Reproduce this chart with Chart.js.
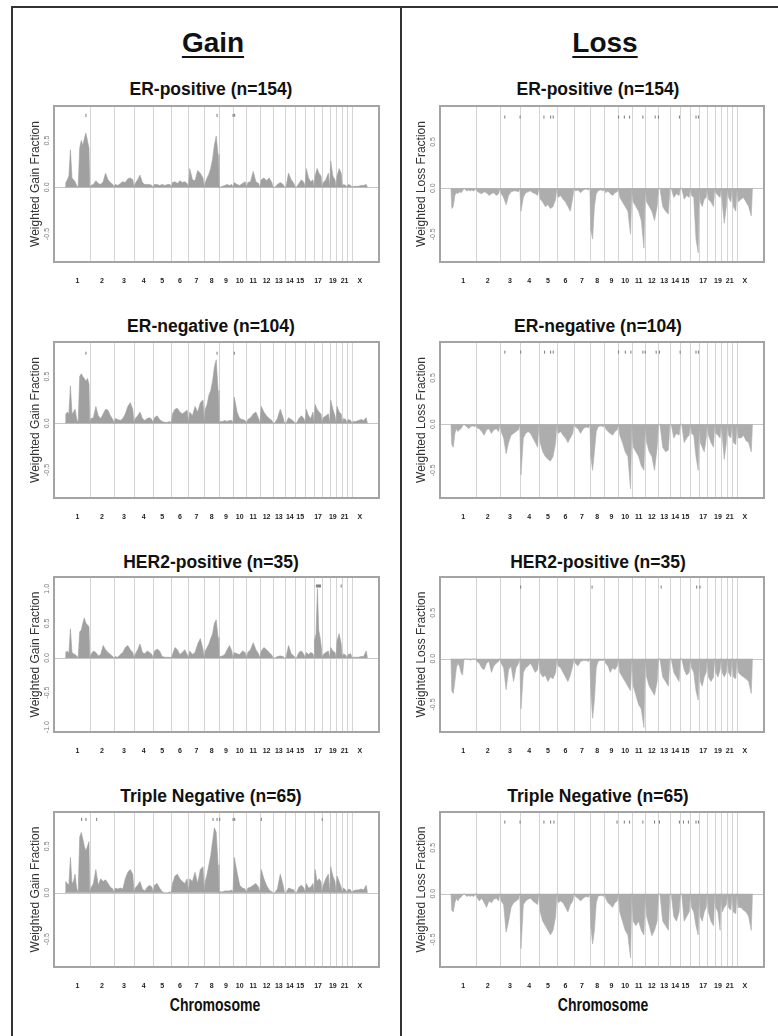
<!DOCTYPE html>
<html lang="en">
<head>
<meta charset="UTF-8">
<title>Weighted gain and loss fraction by subtype</title>
<script src="https://cdn.jsdelivr.net/npm/chart.js"></script>
<style>
  body { margin: 0; background: #fff; font-family: "Liberation Sans", Arial, sans-serif; color: #111; }
  #page { position: relative; width: 778px; height: 1036px; overflow: hidden; }
  .frame { position: absolute; background: #333; }
  .head { position: absolute; font-weight: bold; font-size: 28px; line-height: 1; transform: translate(-50%, -50%);
          text-decoration: underline; text-decoration-thickness: 2px; text-underline-offset: 4px; }
  .ptitle { position: absolute; font-weight: bold; font-size: 17.5px; line-height: 1; white-space: nowrap; transform: translate(-50%, -50%); }
  .xlab { position: absolute; font-weight: bold; font-size: 18px; line-height: 1; white-space: nowrap; transform: translate(-50%, -50%) scaleX(0.78); }
  canvas { position: absolute; }
</style>
</head>
<body>
<div id="page">
  <div class="frame" style="left:11px; top:6px; width:2px; height:1030px;"></div>
  <div class="frame" style="left:11px; top:6px; width:767px; height:2px;"></div>
  <div class="frame" style="left:400px; top:6px; width:2px; height:1030px;"></div>
  <div class="head" style="left:213px; top:43px;">Gain</div>
  <div class="head" style="left:605px; top:43px;">Loss</div>
  <div class="xlab" style="left:215px; top:1005px;">Chromosome</div>
  <div class="xlab" style="left:603px; top:1005px;">Chromosome</div>
</div>

<script>
// chromosome lengths (Mb) and axis labels
const chromLengths = [247, 243, 199, 191, 181, 171, 159, 146, 140, 135, 134, 132, 114, 106, 100, 89, 79, 76, 64, 62, 47, 50, 155];
const chromLabels = ['1','2','3','4','5','6','7','8','9','10','11','12','13','14','15','','17','','19','','21','','X'];

const yTicksHalf = [-0.5, 0, 0.5];
const yTicksOne = [-1, -0.5, 0, 0.5, 1];

// weighted gain fraction, one list per chromosome (bins along the chromosome)
const gainERpos = [
  [0.05,0.08,0.12,0.40,0.10,0.08,0.06,0.02,0.00,0.42,0.50,0.45,0.52,0.58,0.50,0.42],
  [0.02,0.03,0.07,0.04,0.03,0.06,0.15,0.08,0.05,0.03],
  [0.03,0.02,0.04,0.06,0.05,0.09,0.10,0.08],
  [0.04,0.08,0.13,0.05,0.03,0.03,0.03,0.02],
  [0.03,0.03,0.02,0.03,0.02,0.03,0.03],
  [0.05,0.06,0.04,0.07,0.05,0.06,0.04],
  [0.20,0.08,0.07,0.18,0.15,0.10],
  [0.05,0.10,0.14,0.20,0.30,0.45,0.55,0.35],
  [0.00,0.01,0.02,0.03,0.02,0.03],
  [0.05,0.03,0.02,0.04,0.06],
  [0.05,0.06,0.17,0.06,0.04],
  [0.08,0.10,0.07,0.10,0.05],
  [0.00,0.03,0.05,0.03],
  [0.00,0.15,0.08,0.04],
  [0.00,0.04,0.08,0.05],
  [0.20,0.10,0.06,0.08],
  [0.12,0.20,0.15,0.12],
  [0.05,0.08,0.15],
  [0.28,0.12,0.08],
  [0.12,0.20,0.15],
  [0.03,0.02],
  [0.03,0.02],
  [0.01,0.01,0.01,0.02,0.02,0.03]
];
const gainERneg = [
  [0.10,0.12,0.10,0.40,0.10,0.12,0.15,0.05,0.00,0.50,0.53,0.50,0.48,0.45,0.48,0.42],
  [0.05,0.06,0.18,0.08,0.05,0.10,0.15,0.14,0.08,0.04],
  [0.05,0.04,0.03,0.05,0.10,0.18,0.22,0.15],
  [0.05,0.08,0.12,0.05,0.03,0.05,0.06,0.04],
  [0.06,0.08,0.04,0.02,0.01,0.01,0.02],
  [0.10,0.15,0.16,0.12,0.10,0.12,0.14],
  [0.12,0.08,0.18,0.12,0.22,0.25],
  [0.15,0.20,0.30,0.35,0.45,0.60,0.68,0.35],
  [0.02,0.02,0.03,0.02,0.03,0.03],
  [0.28,0.12,0.05,0.04,0.03],
  [0.04,0.06,0.10,0.12,0.05],
  [0.18,0.12,0.08,0.05,0.03],
  [0.00,0.05,0.15,0.06],
  [0.00,0.06,0.04,0.02],
  [0.00,0.05,0.08,0.05],
  [0.15,0.08,0.05,0.12],
  [0.20,0.15,0.12,0.10],
  [0.06,0.08,0.10],
  [0.25,0.15,0.08],
  [0.18,0.12,0.10],
  [0.05,0.04],
  [0.04,0.03],
  [0.02,0.02,0.03,0.04,0.03,0.06]
];
const gainHER2 = [
  [0.08,0.10,0.06,0.42,0.08,0.06,0.05,0.03,0.00,0.38,0.40,0.50,0.58,0.50,0.48,0.45],
  [0.05,0.10,0.08,0.03,0.05,0.18,0.12,0.08,0.05,0.02],
  [0.02,0.01,0.05,0.08,0.15,0.18,0.12,0.08],
  [0.05,0.12,0.20,0.08,0.06,0.10,0.08,0.05],
  [0.10,0.13,0.10,0.02,0.01,0.01,0.01],
  [0.05,0.15,0.12,0.05,0.08,0.12,0.05],
  [0.10,0.05,0.08,0.20,0.28,0.12],
  [0.10,0.15,0.20,0.28,0.35,0.50,0.55,0.30],
  [0.02,0.03,0.05,0.12,0.18,0.10],
  [0.08,0.06,0.05,0.10,0.08],
  [0.08,0.12,0.22,0.12,0.06],
  [0.10,0.15,0.12,0.08,0.04],
  [0.00,0.02,0.03,0.02],
  [0.00,0.18,0.06,0.03],
  [0.00,0.08,0.10,0.05],
  [0.08,0.05,0.08,0.06],
  [0.25,0.35,1.00,0.40,0.30,0.15],
  [0.05,0.08,0.10],
  [0.15,0.10,0.08],
  [0.25,0.35,0.20],
  [0.06,0.04],
  [0.05,0.06],
  [0.01,0.01,0.01,0.02,0.02,0.10]
];
const gainTN = [
  [0.12,0.10,0.08,0.38,0.10,0.12,0.20,0.05,0.00,0.60,0.65,0.58,0.50,0.45,0.50,0.55],
  [0.05,0.10,0.25,0.08,0.15,0.12,0.14,0.10,0.06,0.04],
  [0.05,0.04,0.05,0.04,0.15,0.22,0.25,0.20],
  [0.05,0.08,0.12,0.04,0.02,0.06,0.08,0.06],
  [0.08,0.10,0.05,0.01,0.00,0.00,0.01],
  [0.10,0.18,0.20,0.15,0.12,0.10,0.15],
  [0.15,0.12,0.22,0.10,0.25,0.28],
  [0.12,0.20,0.30,0.40,0.55,0.70,0.65,0.30],
  [0.01,0.01,0.02,0.02,0.02,0.03],
  [0.38,0.22,0.08,0.05,0.04],
  [0.05,0.06,0.08,0.10,0.06],
  [0.25,0.15,0.08,0.03,0.01],
  [0.00,0.04,0.20,0.08],
  [0.00,0.05,0.04,0.03],
  [0.00,0.06,0.08,0.05],
  [0.10,0.05,0.06,0.10],
  [0.25,0.12,0.15,0.12],
  [0.08,0.15,0.20],
  [0.28,0.18,0.12],
  [0.18,0.12,0.06],
  [0.05,0.03],
  [0.04,0.03],
  [0.02,0.03,0.03,0.04,0.03,0.08]
];

// weighted loss fraction
const lossERpos = [
  [-0.22,-0.20,-0.08,-0.05,-0.06,-0.04,-0.05,-0.03,0,-0.02,-0.03,-0.02,-0.03,-0.02,-0.03,-0.02],
  [-0.03,-0.05,-0.06,-0.04,-0.05,-0.08,-0.06,-0.05,-0.08,-0.06],
  [-0.06,-0.10,-0.18,-0.08,-0.04,-0.03,-0.03,-0.04],
  [-0.25,-0.10,-0.05,-0.04,-0.03,-0.05,-0.06,-0.08],
  [-0.12,-0.15,-0.20,-0.18,-0.22,-0.20,-0.12],
  [-0.10,-0.08,-0.12,-0.15,-0.20,-0.25,-0.10],
  [-0.03,-0.02,-0.05,-0.02,-0.01,-0.02],
  [-0.45,-0.55,-0.20,-0.06,-0.03,-0.02,-0.02,-0.03],
  [-0.05,-0.03,-0.06,-0.08,-0.05,-0.04],
  [-0.10,-0.15,-0.20,-0.25,-0.50],
  [-0.15,-0.20,-0.25,-0.35,-0.65],
  [-0.15,-0.20,-0.25,-0.35,-0.20],
  [0,-0.20,-0.25,-0.28],
  [0,-0.10,-0.06,-0.08],
  [0,-0.12,-0.08,-0.10],
  [-0.08,-0.10,-0.55,-0.70],
  [-0.15,-0.20,-0.12,-0.10],
  [-0.12,-0.15,-0.20],
  [-0.05,-0.08,-0.10],
  [-0.15,-0.38,-0.20],
  [-0.10,-0.15],
  [-0.20,-0.25],
  [-0.15,-0.12,-0.10,-0.15,-0.20,-0.30]
];
const lossERneg = [
  [-0.22,-0.25,-0.10,-0.05,-0.08,-0.06,-0.05,-0.02,0,-0.02,-0.03,-0.05,-0.03,-0.02,-0.02,-0.03],
  [-0.04,-0.05,-0.08,-0.12,-0.06,-0.05,-0.10,-0.06,-0.05,-0.08],
  [-0.08,-0.15,-0.32,-0.20,-0.12,-0.10,-0.08,-0.06],
  [-0.55,-0.15,-0.10,-0.08,-0.10,-0.15,-0.20,-0.25],
  [-0.20,-0.30,-0.35,-0.38,-0.40,-0.35,-0.20],
  [-0.10,-0.08,-0.12,-0.15,-0.20,-0.15,-0.10],
  [-0.03,-0.05,-0.10,-0.05,-0.03,-0.04],
  [-0.35,-0.50,-0.30,-0.08,-0.03,-0.02,-0.02,-0.03],
  [-0.05,-0.08,-0.10,-0.12,-0.08,-0.06],
  [-0.12,-0.20,-0.30,-0.35,-0.70],
  [-0.25,-0.30,-0.35,-0.45,-0.50],
  [-0.20,-0.30,-0.35,-0.50,-0.25],
  [0,-0.25,-0.30,-0.28],
  [0,-0.15,-0.10,-0.12],
  [0,-0.20,-0.15,-0.12],
  [-0.10,-0.12,-0.35,-0.50],
  [-0.20,-0.25,-0.30,-0.15],
  [-0.12,-0.20,-0.25],
  [-0.10,-0.12,-0.15],
  [-0.12,-0.38,-0.20],
  [-0.12,-0.15],
  [-0.20,-0.22],
  [-0.15,-0.15,-0.12,-0.18,-0.20,-0.30]
];
const lossHER2 = [
  [-0.35,-0.38,-0.25,-0.10,-0.05,-0.08,-0.15,-0.18,0,0,-0.01,0,-0.02,0,-0.01,0],
  [-0.03,-0.05,-0.10,-0.12,-0.05,-0.03,-0.15,-0.08,-0.05,-0.03],
  [-0.05,-0.10,-0.34,-0.12,-0.08,-0.25,-0.10,-0.05],
  [-0.55,-0.15,-0.10,-0.08,-0.05,-0.10,-0.15,-0.12],
  [-0.15,-0.20,-0.18,-0.25,-0.20,-0.22,-0.15],
  [-0.08,-0.10,-0.15,-0.20,-0.25,-0.18,-0.08],
  [-0.05,-0.08,-0.03,-0.02,-0.02,-0.03],
  [-0.35,-0.65,-0.45,-0.10,-0.03,-0.02,-0.02,-0.02],
  [-0.05,-0.08,-0.15,-0.10,-0.12,-0.08],
  [-0.15,-0.20,-0.25,-0.30,-0.35],
  [-0.30,-0.40,-0.50,-0.55,-0.75],
  [-0.20,-0.30,-0.35,-0.40,-0.25],
  [0,-0.20,-0.25,-0.30],
  [0,-0.15,-0.20,-0.25],
  [0,-0.12,-0.18,-0.15],
  [-0.10,-0.15,-0.35,-0.45],
  [-0.25,-0.30,-0.20,-0.15],
  [-0.20,-0.25,-0.20],
  [-0.15,-0.20,-0.12],
  [-0.15,-0.20,-0.15],
  [-0.15,-0.20],
  [-0.20,-0.22],
  [-0.15,-0.18,-0.20,-0.22,-0.25,-0.38]
];
const lossTN = [
  [-0.18,-0.20,-0.10,-0.05,-0.08,-0.05,-0.04,-0.02,0,-0.02,-0.03,-0.02,-0.03,-0.02,-0.03,-0.02],
  [-0.04,-0.08,-0.05,-0.10,-0.15,-0.08,-0.10,-0.06,-0.05,-0.08],
  [-0.08,-0.12,-0.42,-0.30,-0.15,-0.10,-0.08,-0.06],
  [-0.60,-0.12,-0.08,-0.06,-0.05,-0.08,-0.10,-0.12],
  [-0.20,-0.30,-0.35,-0.40,-0.45,-0.40,-0.25],
  [-0.10,-0.08,-0.10,-0.15,-0.20,-0.12,-0.08],
  [-0.03,-0.05,-0.08,-0.05,-0.03,-0.04],
  [-0.35,-0.55,-0.40,-0.10,-0.03,-0.02,-0.02,-0.03],
  [-0.05,-0.10,-0.12,-0.15,-0.10,-0.08],
  [-0.20,-0.30,-0.40,-0.45,-0.70],
  [-0.30,-0.35,-0.30,-0.40,-0.45],
  [-0.25,-0.35,-0.46,-0.40,-0.30],
  [0,-0.30,-0.35,-0.40],
  [0,-0.25,-0.30,-0.20],
  [0,-0.30,-0.25,-0.20],
  [-0.15,-0.20,-0.35,-0.45],
  [-0.25,-0.30,-0.20,-0.15],
  [-0.20,-0.30,-0.35],
  [-0.15,-0.20,-0.40],
  [-0.20,-0.15,-0.12],
  [-0.15,-0.18],
  [-0.20,-0.22],
  [-0.15,-0.15,-0.18,-0.20,-0.25,-0.40]
];

// significant regions (genome position, Mb) marked along the top of each panel
const gainMarksERpos = [209, 1518, 1678, 1694];
const gainMarksERneg = [209, 1518, 1690];
const gainMarksHER2 = [2510, 2520, 2530, 2540, 2550, 2757];
const gainMarksTN = [166, 209, 316, 1478, 1518, 1545, 1678, 1694, 1960, 2568];
const lossMarksERpos = [539, 692, 931, 998, 1024, 1679, 1736, 1789, 1922, 2045, 2078, 2288, 2454, 2478];
const lossMarksERneg = [539, 698, 938, 998, 1024, 1679, 1746, 1802, 1922, 1945, 2055, 2088, 2295, 2454, 2478];
const lossMarksHER2 = [698, 1413, 2105, 2461, 2494];
const lossMarksTN = [539, 692, 931, 998, 1031, 1663, 1736, 1789, 1922, 2039, 2088, 2288, 2328, 2378, 2454, 2478];

const panelTitles = ['ER-positive (n=154)', 'ER-negative (n=104)', 'HER2-positive (n=35)', 'Triple Negative (n=65)'];

// chromosome geometry
const chromStarts = [];
let acc = 0;
chromLengths.forEach(l => { chromStarts.push(acc); acc += l; });
const chromCenters = chromLengths.map((l, i) => chromStarts[i] + l / 2);

function profilePoints(values) {
  const pts = [];
  values.forEach((bins, c) => {
    const s = chromStarts[c], w = chromLengths[c] / bins.length;
    pts.push({ x: s, y: 0 });
    bins.forEach((v, i) => pts.push({ x: s + (i + 0.5) * w, y: v }));
    pts.push({ x: s + chromLengths[c], y: 0 });
  });
  return pts;
}

// layout
const rows = [
  { top: 104, h: 158, titleY: 90 },
  { top: 340, h: 158, titleY: 327 },
  { top: 575, h: 157, titleY: 563 },
  { top: 810, h: 157, titleY: 797 }
];
const cols = {
  gain: { left: 54, w: 326, titleX: 211, axis: 'Weighted Gain Fraction', color: '#a0a0a0' },
  loss: { left: 440, w: 325, titleX: 598, axis: 'Weighted Loss Fraction', color: '#adadad' }
};

const panels = [
  { col: 'gain', row: 0, values: gainERpos, marks: gainMarksERpos, markY: 0.77, yMin: -0.80, yMax: 0.87, ticks: yTicksHalf },
  { col: 'gain', row: 1, values: gainERneg, marks: gainMarksERneg, markY: 0.75, yMin: -0.80, yMax: 0.87, ticks: yTicksHalf },
  { col: 'gain', row: 2, values: gainHER2, marks: gainMarksHER2, markY: 1.04, yMin: -1.07, yMax: 1.17, ticks: yTicksOne },
  { col: 'gain', row: 3, values: gainTN, marks: gainMarksTN, markY: 0.79, yMin: -0.80, yMax: 0.87, ticks: yTicksHalf },
  { col: 'loss', row: 0, values: lossERpos, marks: lossMarksERpos, markY: 0.77, yMin: -0.80, yMax: 0.89, ticks: yTicksHalf },
  { col: 'loss', row: 1, values: lossERneg, marks: lossMarksERneg, markY: 0.78, yMin: -0.80, yMax: 0.89, ticks: yTicksHalf },
  { col: 'loss', row: 2, values: lossHER2, marks: lossMarksHER2, markY: 0.78, yMin: -0.80, yMax: 0.89, ticks: yTicksHalf },
  { col: 'loss', row: 3, values: lossTN, marks: lossMarksTN, markY: 0.78, yMin: -0.80, yMax: 0.89, ticks: yTicksHalf }
];

const AXIS_W = 46, AXIS_H = 30, PAD_TOP = 3, PAD_RIGHT = 4;

// chromosome separators, zero line, plot box and rotated y labels (R style)
const genomeFrame = {
  id: 'genomeFrame',
  beforeDatasetsDraw(chart) {
    const { ctx, chartArea: a, scales: { x, y } } = chart;
    ctx.save();
    ctx.lineWidth = 1;
    ctx.strokeStyle = '#d4d4d4';
    chromStarts.slice(1).forEach(s => {
      const px = Math.round(x.getPixelForValue(s)) + 0.5;
      ctx.beginPath(); ctx.moveTo(px, a.top); ctx.lineTo(px, a.bottom); ctx.stroke();
    });
    const py = Math.round(y.getPixelForValue(0)) + 0.5;
    ctx.strokeStyle = '#c6c6c6';
    ctx.beginPath(); ctx.moveTo(a.left, py); ctx.lineTo(a.right, py); ctx.stroke();
    ctx.restore();
  },
  afterDraw(chart) {
    const { ctx, chartArea: a, scales: { y } } = chart;
    ctx.save();
    ctx.strokeStyle = '#a4a4a4';
    ctx.lineWidth = 2;
    ctx.strokeRect(a.left, a.top, a.right - a.left, a.bottom - a.top);
    ctx.fillStyle = '#7a7a7a';
    ctx.font = '7px "Liberation Sans", Arial, sans-serif';
    ctx.textAlign = 'center';
    ctx.textBaseline = 'middle';
    y.ticks.forEach(t => {
      ctx.save();
      ctx.translate(a.left - 7, y.getPixelForValue(t.value));
      ctx.rotate(-Math.PI / 2);
      ctx.fillText(t.value.toFixed(1), 0, 0);
      ctx.restore();
    });
    ctx.restore();
  }
};

const page = document.getElementById('page');

panels.forEach(p => {
  const c = cols[p.col], r = rows[p.row];

  const t = document.createElement('div');
  t.className = 'ptitle';
  t.style.left = c.titleX + 'px';
  t.style.top = r.titleY + 'px';
  t.textContent = panelTitles[p.row];
  page.appendChild(t);

  const cv = document.createElement('canvas');
  cv.width = c.w + AXIS_W + PAD_RIGHT;
  cv.height = r.h + PAD_TOP + AXIS_H;
  cv.style.left = (c.left - AXIS_W) + 'px';
  cv.style.top = (r.top - PAD_TOP) + 'px';
  page.appendChild(cv);

  new Chart(cv.getContext('2d'), {
    type: 'line',
    data: {
      datasets: [
        {
          data: profilePoints(p.values),
          borderColor: c.color,
          backgroundColor: c.color,
          borderWidth: 0.6,
          pointRadius: 0,
          tension: 0,
          fill: 'origin'
        },
        {
          data: p.marks.map(m => ({ x: m, y: p.markY })),
          showLine: false,
          pointStyle: 'line',
          rotation: 90,
          pointRadius: 1.5,
          borderColor: '#777',
          borderWidth: 1
        }
      ]
    },
    options: {
      responsive: false,
      animation: false,
      layout: { padding: { top: PAD_TOP, right: PAD_RIGHT, left: 0, bottom: 0 } },
      plugins: { legend: { display: false }, tooltip: { enabled: false } },
      scales: {
        x: {
          type: 'linear',
          min: -110,
          max: acc + 115,
          afterFit: s => { s.height = AXIS_H; },
          afterBuildTicks: s => { s.ticks = chromCenters.map(v => ({ value: v })); },
          grid: { display: false, drawTicks: false },
          border: { display: false },
          ticks: {
            autoSkip: false,
            maxRotation: 0,
            padding: 15,
            color: '#222',
            font: { size: 7, weight: 'bold', family: '"Liberation Sans Narrow", "Liberation Sans", Arial, sans-serif' },
            callback: (v, i) => chromLabels[i]
          }
        },
        y: {
          min: p.yMin,
          max: p.yMax,
          afterFit: s => { s.width = AXIS_W; },
          afterBuildTicks: s => { s.ticks = p.ticks.map(v => ({ value: v })); },
          grid: { display: false },
          border: { display: false },
          ticks: { display: false },
          title: {
            display: true,
            text: c.axis,
            color: '#333',
            font: { size: 12, family: '"Liberation Sans", Arial, sans-serif' },
            padding: { top: 20 }
          }
        }
      }
    },
    plugins: [genomeFrame]
  });
});
</script>
</body>
</html>
